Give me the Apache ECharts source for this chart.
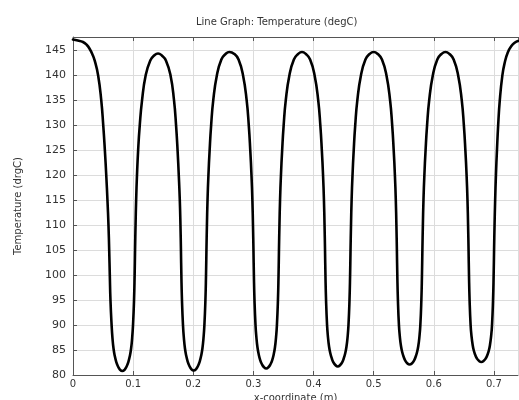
<!DOCTYPE html>
<html>
<head>
<meta charset="utf-8">
<script src="https://cdn.jsdelivr.net/npm/echarts@6/dist/echarts.min.js"></script>
<style>
  html, body { margin: 0; padding: 0; background: #ffffff; }
  #chart { width: 519px; height: 400px; }
</style>
</head>
<body>
<div id="chart"></div>
<script>
// x-coordinate (m)
var xCoord = [
  0.0000, 0.0080, 0.0166, 0.0230, 0.0278, 0.0320, 0.0360, 0.0418, 0.0470, 0.0503,
  0.0530, 0.0553, 0.0573, 0.0590, 0.0602, 0.0612, 0.0623, 0.0642, 0.0657, 0.0675,
  0.0695, 0.0720, 0.0745, 0.0780, 0.0820,
  0.0860, 0.0895, 0.0920, 0.0945, 0.0965, 0.0983, 0.0998, 0.1015, 0.1025, 0.1032,
  0.1040, 0.1050, 0.1064, 0.1083, 0.1110, 0.1148, 0.1208, 0.1285, 0.1350, 0.1414,
  0.1477, 0.1545, 0.1622, 0.1680, 0.1714, 0.1739, 0.1759, 0.1776, 0.1787, 0.1795,
  0.1802, 0.1812, 0.1829, 0.1844, 0.1862, 0.1882, 0.1907, 0.1932, 0.1967, 0.2007,
  0.2047, 0.2082, 0.2107, 0.2132, 0.2152, 0.2170, 0.2185, 0.2202, 0.2212, 0.2219,
  0.2227, 0.2237, 0.2252, 0.2272, 0.2297, 0.2332, 0.2392, 0.2467, 0.2537, 0.2600,
  0.2683, 0.2753, 0.2828, 0.2888, 0.2923, 0.2948, 0.2968, 0.2983, 0.2993, 0.3001,
  0.3008, 0.3018, 0.3035, 0.3050, 0.3068, 0.3088, 0.3113, 0.3138, 0.3173, 0.3213,
  0.3253, 0.3288, 0.3313, 0.3338, 0.3358, 0.3376, 0.3391, 0.3408, 0.3418, 0.3425,
  0.3433, 0.3443, 0.3458, 0.3478, 0.3503, 0.3538, 0.3598, 0.3673, 0.3743, 0.3808,
  0.3873, 0.3943, 0.4018, 0.4078, 0.4113, 0.4138, 0.4158, 0.4173, 0.4183, 0.4191,
  0.4198, 0.4208, 0.4225, 0.4240, 0.4258, 0.4278, 0.4303, 0.4328, 0.4363, 0.4403,
  0.4443, 0.4478, 0.4503, 0.4528, 0.4548, 0.4566, 0.4581, 0.4598, 0.4608, 0.4615,
  0.4623, 0.4633, 0.4648, 0.4668, 0.4693, 0.4728, 0.4788, 0.4863, 0.4933, 0.5000,
  0.5068, 0.5138, 0.5213, 0.5273, 0.5308, 0.5333, 0.5353, 0.5368, 0.5378, 0.5386,
  0.5393, 0.5403, 0.5420, 0.5435, 0.5453, 0.5473, 0.5498, 0.5523, 0.5558, 0.5598,
  0.5638, 0.5673, 0.5698, 0.5723, 0.5743, 0.5761, 0.5776, 0.5793, 0.5803, 0.5810,
  0.5818, 0.5828, 0.5843, 0.5863, 0.5888, 0.5923, 0.5983, 0.6058, 0.6128, 0.6194,
  0.6260, 0.6330, 0.6405, 0.6465, 0.6500, 0.6525, 0.6545, 0.6560, 0.6570, 0.6578,
  0.6585, 0.6595, 0.6612, 0.6627, 0.6645, 0.6665, 0.6690, 0.6715, 0.6750, 0.6790,
  0.6830, 0.6865, 0.6890, 0.6915, 0.6935, 0.6953, 0.6968, 0.6985, 0.6995, 0.7002,
  0.7010, 0.7020, 0.7033, 0.7050, 0.7070, 0.7097, 0.7140, 0.7178, 0.7230, 0.7290,
  0.7350, 0.7400
];
// Temperature (degC) at each x-coordinate
var tempC = [
  147.2, 147.0, 146.7, 146.1, 145.3, 144.3, 143.0, 140.0, 135.0, 130.0,
  125.0, 120.0, 115.0, 110.0, 105.0, 100.0, 95.0, 90.0, 87.3, 85.2,
  83.8, 82.6, 81.8, 81.1, 80.8,
  81.1, 81.8, 82.6, 83.8, 85.2, 87.3, 90.0, 95.0, 100.0, 105.0,
  110.0, 115.0, 120.0, 125.0, 130.0, 135.0, 140.0, 143.0, 144.0, 144.4,
  144.0, 143.0, 140.0, 135.0, 130.0, 125.0, 120.0, 115.0, 110.0, 105.0,
  100.0, 95.0, 90.0, 87.4, 85.3, 83.9, 82.7, 81.9, 81.2, 80.9,
  81.2, 81.9, 82.7, 83.9, 85.3, 87.4, 90.0, 95.0, 100.0, 105.0,
  110.0, 115.0, 120.0, 125.0, 130.0, 135.0, 140.0, 143.2, 144.3, 144.7,
  144.3, 143.2, 140.0, 135.0, 130.0, 125.0, 120.0, 115.0, 110.0, 105.0,
  100.0, 95.0, 90.0, 87.5, 85.5, 84.15, 83.0, 82.25, 81.6, 81.3,
  81.6, 82.25, 83.0, 84.15, 85.5, 87.5, 90.0, 95.0, 100.0, 105.0,
  110.0, 115.0, 120.0, 125.0, 130.0, 135.0, 140.0, 143.2, 144.3, 144.7,
  144.3, 143.2, 140.0, 135.0, 130.0, 125.0, 120.0, 115.0, 110.0, 105.0,
  100.0, 95.0, 90.0, 87.6, 85.7, 84.4, 83.35, 82.6, 82.0, 81.7,
  82.0, 82.6, 83.35, 84.4, 85.7, 87.6, 90.0, 95.0, 100.0, 105.0,
  110.0, 115.0, 120.0, 125.0, 130.0, 135.0, 140.0, 143.2, 144.3, 144.7,
  144.3, 143.2, 140.0, 135.0, 130.0, 125.0, 120.0, 115.0, 110.0, 105.0,
  100.0, 95.0, 90.0, 87.7, 85.9, 84.65, 83.65, 82.95, 82.35, 82.1,
  82.35, 82.95, 83.65, 84.65, 85.9, 87.7, 90.0, 95.0, 100.0, 105.0,
  110.0, 115.0, 120.0, 125.0, 130.0, 135.0, 140.0, 143.2, 144.3, 144.7,
  144.3, 143.2, 140.0, 135.0, 130.0, 125.0, 120.0, 115.0, 110.0, 105.0,
  100.0, 95.0, 90.0, 87.8, 86.1, 84.9, 84.0, 83.35, 82.85, 82.6,
  82.85, 83.35, 84.0, 84.9, 86.1, 87.8, 90.0, 95.0, 100.0, 105.0,
  110.0, 115.0, 120.0, 125.0, 130.0, 135.0, 140.0, 142.5, 144.6, 145.9,
  146.6, 146.9
];
var titleText = 'Line Graph: Temperature (degC)';
var xName = 'x-coordinate (m)';
var yName = 'Temperature (drgC)';
var xMin = 0, xMax = 0.74, xStep = 0.1;
var yMin = 80, yMax = 147.7, yStep = 5;

var pts = xCoord.map(function (x, i) { return [x, tempC[i]]; });
var font = 'DejaVu Sans';
var chart = echarts.init(document.getElementById('chart'), null, { renderer: 'canvas' });
chart.setOption({
  animation: false,
  backgroundColor: '#ffffff',
  title: {
    text: titleText, left: 191, top: 12,
    textStyle: { fontFamily: font, fontSize: 10, fontWeight: 'normal', color: '#333333' }
  },
  grid: { left: 73, right: 1, top: 37, bottom: 25, containLabel: false, outerBoundsMode: 'none' },
  xAxis: [{
    type: 'value', min: xMin, max: xMax, interval: xStep,
    name: xName, nameLocation: 'middle', nameGap: 15,
    nameTextStyle: { fontFamily: font, fontSize: 10, color: '#333333' },
    axisLine: { show: true, onZero: false, lineStyle: { color: '#555555', width: 1 } },
    axisTick: { show: true, inside: true, length: 4, lineStyle: { color: '#555555' } },
    axisLabel: {
      fontFamily: font, fontSize: 10, color: '#333333', margin: 4, showMaxLabel: false,
      formatter: function (v) { return (Math.round(v * 10) / 10).toString(); }
    },
    splitLine: { show: true, lineStyle: { color: '#dcdcdc', width: 1 } }
  }, {
    type: 'value', position: 'top', min: xMin, max: xMax, interval: xStep,
    axisLine: { show: true, onZero: false, lineStyle: { color: '#555555', width: 1 } },
    axisTick: { show: true, inside: true, length: 4, lineStyle: { color: '#555555' } },
    axisLabel: { show: false },
    splitLine: { show: false }
  }],
  yAxis: {
    type: 'value', min: yMin, max: yMax, interval: yStep,
    name: yName, nameLocation: 'middle', nameGap: 50,
    nameTextStyle: { fontFamily: font, fontSize: 10, color: '#333333' },
    axisLine: { show: true, onZero: false, lineStyle: { color: '#555555', width: 1 } },
    axisTick: { show: true, inside: true, length: 4, lineStyle: { color: '#555555' } },
    axisLabel: { fontFamily: font, fontSize: 11, color: '#333333', margin: 7, showMaxLabel: false },
    splitLine: { show: true, lineStyle: { color: '#dcdcdc', width: 1 } }
  },
  series: [{
    type: 'line', xAxisIndex: 0, data: pts,
    showSymbol: false, smooth: 0.5,
    lineStyle: { color: '#000000', width: 2.6, cap: 'round', join: 'round' },
    clip: true
  }]
});
</script>
</body>
</html>
